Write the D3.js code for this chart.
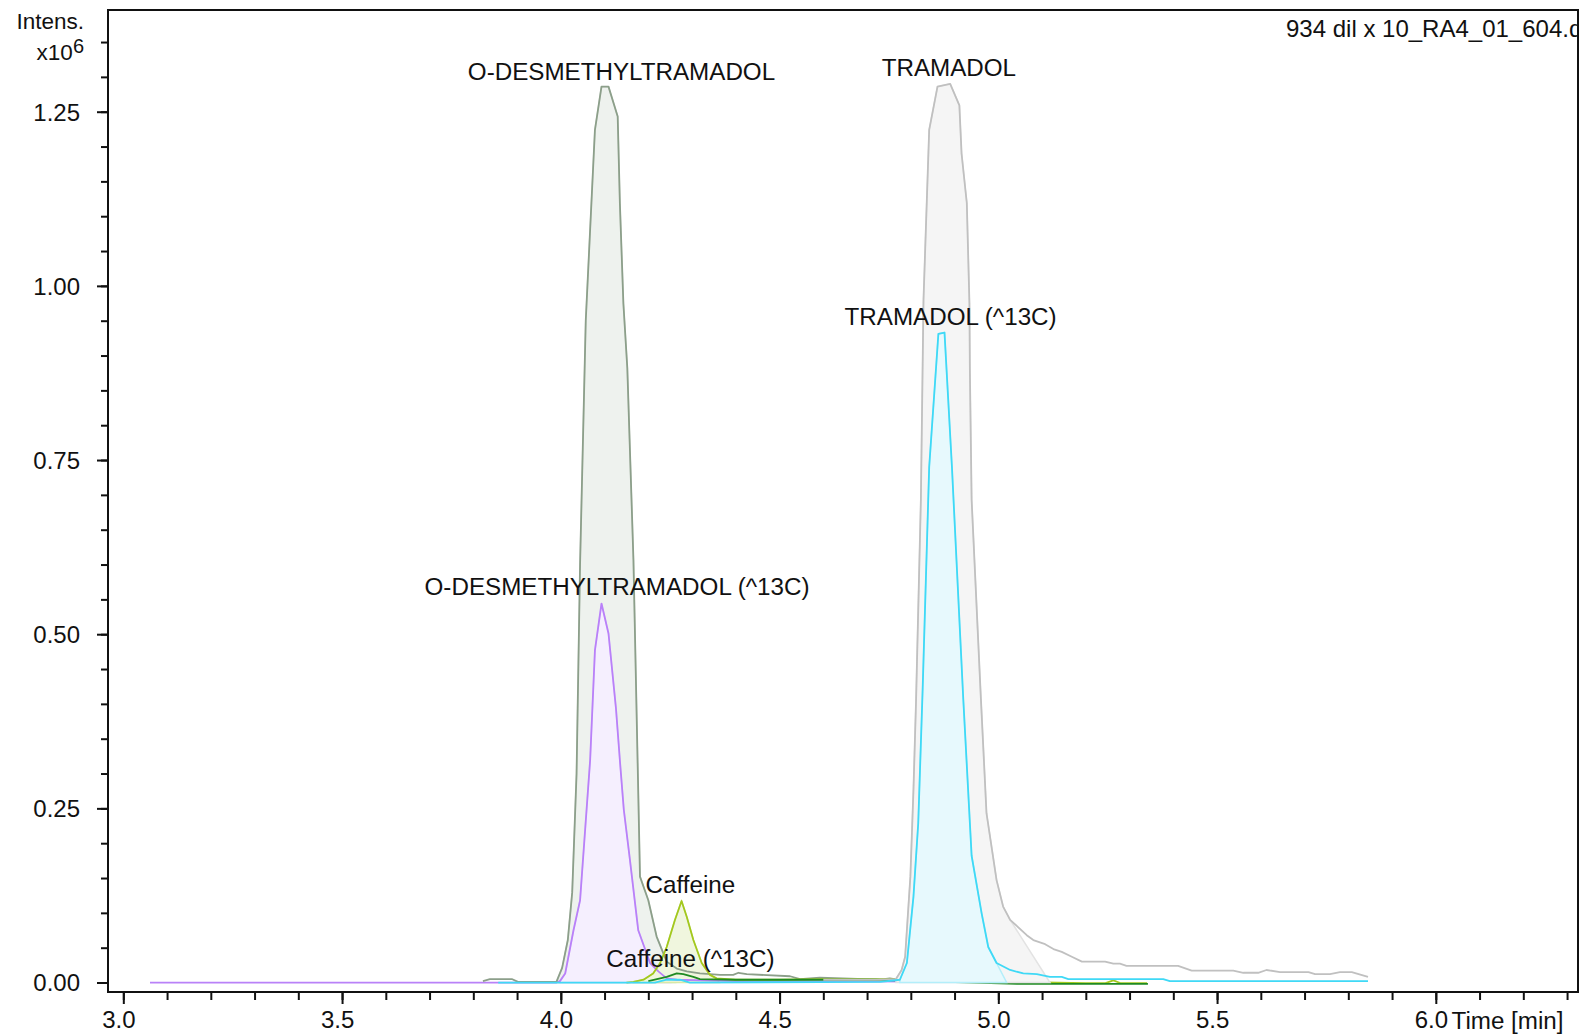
<!DOCTYPE html>
<html>
<head>
<meta charset="utf-8">
<script src="https://cdn.jsdelivr.net/npm/d3@7/dist/d3.min.js"></script>
<style>
html,body{margin:0;padding:0;background:#fff;}
svg{display:block;}
text{font-family:"Liberation Sans",Arial,Helvetica,sans-serif;fill:#111;}
</style>
</head>
<body>
<svg id="chart" width="1586" height="1036"></svg>
<script>
// ---------------- data (time in min, intensity in x10^6) ----------------
const odesTime = [3.822,3.838,3.888,3.902,3.990,4.003,4.016,4.026,4.036,4.044,4.057,4.078,4.093,4.109,4.130,4.135,4.143,4.152,4.166,4.181,4.200,4.219,4.242,4.265,4.288,4.318,4.364,4.394,4.406,4.425,4.524,4.547,4.592,4.730,4.752,4.770];
const odesIntensity = [0.002,0.005,0.005,0.001,0.001,0.021,0.061,0.129,0.300,0.600,0.950,1.224,1.286,1.286,1.243,1.119,0.975,0.882,0.607,0.152,0.118,0.066,0.030,0.020,0.016,0.013,0.011,0.011,0.014,0.012,0.009,0.005,0.007,0.004,0.006,0.004];

const odes13cTime = [3.061,3.990,3.998,4.010,4.029,4.044,4.067,4.078,4.093,4.109,4.126,4.135,4.144,4.158,4.177,4.204,4.223,4.242,4.265,4.400,5.050];
const odes13cIntensity = [0,0,0.002,0.013,0.075,0.118,0.319,0.477,0.544,0.501,0.394,0.319,0.248,0.176,0.075,0.028,0.016,0.006,0.004,0.002,0.001];

const tramTime = [4.600,4.730,4.766,4.779,4.787,4.799,4.806,4.812,4.823,4.829,4.842,4.861,4.890,4.911,4.916,4.928,4.934,4.935,4.939,4.960,4.973,4.996,5.011,5.027,5.065,5.080,5.107,5.126,5.145,5.168,5.191,5.244,5.263,5.278,5.293,5.411,5.442,5.537,5.560,5.594,5.613,5.644,5.709,5.724,5.758,5.781,5.808,5.845];
const tramIntensity = [0.004,0.004,0.005,0.018,0.037,0.152,0.276,0.405,0.693,0.980,1.224,1.286,1.290,1.259,1.190,1.119,0.975,0.879,0.693,0.410,0.243,0.147,0.109,0.090,0.068,0.061,0.055,0.048,0.044,0.037,0.030,0.030,0.027,0.027,0.024,0.024,0.017,0.017,0.014,0.014,0.018,0.015,0.015,0.012,0.012,0.015,0.015,0.008];

const tram13cTime = [3.857,4.215,4.242,4.272,4.295,4.730,4.775,4.791,4.806,4.817,4.827,4.842,4.863,4.877,4.894,4.920,4.939,4.962,4.977,4.996,5.027,5.057,5.088,5.118,5.145,5.160,5.377,5.392,5.845];
const tram13cIntensity = [0,0,0.004,0.004,0,0.001,0.004,0.028,0.123,0.229,0.420,0.740,0.931,0.933,0.740,0.406,0.182,0.099,0.051,0.028,0.018,0.013,0.012,0.008,0.008,0.005,0.005,0.002,0.002];

const caffTime = [4.150,4.166,4.189,4.211,4.227,4.242,4.261,4.276,4.288,4.303,4.322,4.341,4.356,4.400,4.500,4.600,4.720,5.200,5.245,5.263,5.280,5.340];
const caffIntensity = [0,0.001,0.004,0.013,0.028,0.051,0.090,0.117,0.094,0.061,0.028,0.011,0.006,0.004,0.004,0.005,0.005,-0.001,-0.001,0.003,-0.001,-0.001];

const caff13cTime = [4.200,4.242,4.265,4.280,4.303,4.318,4.400,4.600,4.720,5.043,5.342];
const caff13cIntensity = [0.002,0.008,0.013,0.012,0.008,0.005,0.004,0.004,0.004,-0.002,-0.002];

// integration windows: [start, end on curve, end on baseline]
const odesArea = [3.990, 4.242, 4.262];
const odes13cArea = [3.998, 4.242, 4.250];
const tramArea = [4.766, 5.027, 5.118];
const tram13cArea = [4.775, 4.996, 5.019];
const caffArea = [4.166, 4.356, 4.362];

const peakLabels = ["O-DESMETHYLTRAMADOL","TRAMADOL","TRAMADOL (^13C)","O-DESMETHYLTRAMADOL (^13C)","Caffeine","Caffeine (^13C)"];
const labelTime = [4.1387,4.887,4.891,4.1285,4.2963,4.2963];
const labelIntensity = [1.2955,1.3006,0.944,0.556,0.1285,0.0227];

const xMajorTicks = [3.0,3.5,4.0,4.5,5.0,5.5,6.0];
const xMinorTicks = d3.range(30,64).map(v=>v/10);
const yMajorTicks = [0,0.25,0.50,0.75,1.00,1.25];
const yMinorTicks = d3.range(0,28).map(v=>v*0.05);

const fileName = "934 dil x 10_RA4_01_604.d";

// ---------------- drawing ----------------
const svg = d3.select("#chart");
const L=108, T=10, R=1578, B=992;
const x = d3.scaleLinear().domain([2.965,6.325]).range([L,R]);
const y = d3.scaleLinear().domain([-0.0136,1.396]).range([B,T]);

svg.append("defs").append("clipPath").attr("id","plotclip")
  .append("rect").attr("x",L).attr("y",T).attr("width",R-L).attr("height",B-T);

const plot = svg.append("g").attr("clip-path","url(#plotclip)");

const toPts = (ts, is) => ts.map((t,i)=>[t,is[i]]);
const line = d3.line().x(d=>x(d[0])).y(d=>y(d[1]));

const S = {
  odes:   {pts: toPts(odesTime,odesIntensity), area: odesArea, stroke:"#8c9f8a", fill:"#eef2ee", edge:"#d6ddd5"},
  tram:   {pts: toPts(tramTime,tramIntensity), area: tramArea, stroke:"#c0c0c0", fill:"#f5f5f5", edge:"#e3e3e3"},
  odes13c:{pts: toPts(odes13cTime,odes13cIntensity), area: odes13cArea, stroke:"#b981f8", fill:"#f5effe", edge:"#e2cffc"},
  tram13c:{pts: toPts(tram13cTime,tram13cIntensity), area: tram13cArea, stroke:"#3fd9f6", fill:"#e7f9fd", edge:"#b3eefa"},
  caff:   {pts: toPts(caffTime,caffIntensity), area: caffArea, stroke:"#a3c81e", fill:"#f0f6de", edge:"#d8e9a6"},
  caff13c:{pts: toPts(caff13cTime,caff13cIntensity), area: null, stroke:"#1f8a22"}
};

function drawFill(s){
  const [a0,a1,a2] = s.area;
  const inside = s.pts.filter(p=>p[0]>=a0 && p[0]<=a1);
  const poly = inside.concat([[a2,0],[a0,0]]);
  plot.append("path").attr("d", line(poly)+"Z")
    .attr("fill", s.fill).attr("stroke", s.edge).attr("stroke-width",1.5);
}
function drawLine(s){
  plot.append("path").attr("d", line(s.pts))
    .attr("fill","none").attr("stroke", s.stroke).attr("stroke-width",1.8)
    .attr("stroke-linejoin","round");
}

drawFill(S.odes); drawFill(S.odes13c); drawFill(S.caff);
drawLine(S.odes13c); drawLine(S.odes); drawLine(S.caff); drawLine(S.caff13c);
drawFill(S.tram); drawFill(S.tram13c);
drawLine(S.tram); drawLine(S.tram13c);

// peak labels
peakLabels.forEach((lab,i)=>{
  svg.append("text").attr("x", x(labelTime[i])).attr("y", y(labelIntensity[i]))
    .attr("text-anchor","middle").attr("font-size","24.2px").text(lab);
});

// file name (clipped at the frame)
plot.append("text").attr("x",1286).attr("y",36.5).attr("font-size","24px").text(fileName);

// axes
const gx = svg.append("g").attr("transform",`translate(0,${B})`);
gx.append("g").call(d3.axisBottom(x).tickValues(xMinorTicks).tickSize(8).tickFormat(""))
  .call(g=>g.select(".domain").remove());
gx.append("g").call(d3.axisBottom(x).tickValues(xMajorTicks).tickSize(12).tickPadding(7).tickFormat(d3.format(".1f")))
  .call(g=>g.select(".domain").remove())
  .call(g=>g.selectAll("text").attr("font-size","24px").attr("dx",-5).attr("fill","#111"));
gx.selectAll("line").attr("stroke","#111").attr("stroke-width",2);

const gy = svg.append("g").attr("transform",`translate(${L},0)`);
gy.append("g").call(d3.axisLeft(y).tickValues(yMinorTicks).tickSize(7).tickFormat(""))
  .call(g=>g.select(".domain").remove());
gy.append("g").call(d3.axisLeft(y).tickValues(yMajorTicks).tickSize(11).tickPadding(17).tickFormat(d3.format(".2f")))
  .call(g=>g.select(".domain").remove())
  .call(g=>g.selectAll("text").attr("font-size","24px").attr("dy","0.35em").attr("fill","#111"));
gy.selectAll("line").attr("stroke","#111").attr("stroke-width",2);

svg.selectAll(".tick text").attr("font-family",null);
svg.selectAll("g").attr("font-family",null);

// frame
svg.append("rect").attr("x",L).attr("y",T).attr("width",R-L).attr("height",B-T)
  .attr("fill","none").attr("stroke","#111").attr("stroke-width",2);

// axis titles
svg.append("text").attr("x",84).attr("y",29).attr("text-anchor","end").attr("font-size","22.5px").text("Intens.");
const yt = svg.append("text").attr("x",84).attr("y",60).attr("text-anchor","end").attr("font-size","22.5px");
yt.append("tspan").text("x10");
yt.append("tspan").attr("dy",-7.5).attr("font-size","20px").text("6");
svg.append("text").attr("x",1451.5).attr("y",1028.5).attr("font-size","24.2px").text("Time [min]");
</script>
</body>
</html>
